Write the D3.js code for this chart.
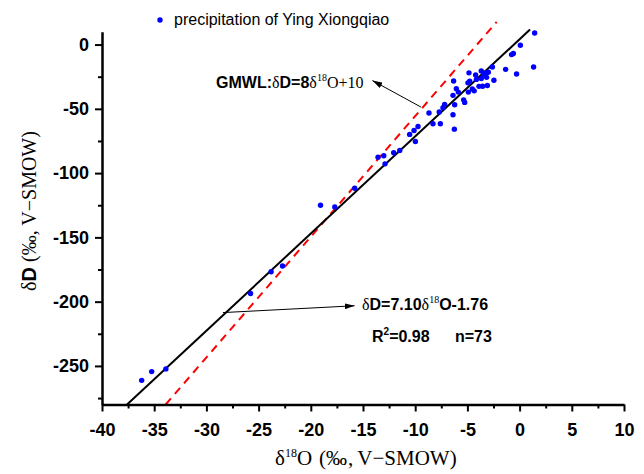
<!DOCTYPE html>
<meta charset="utf-8">
<script src="https://d3js.org/d3.v7.min.js"></script>
<style>
  body { margin: 0; background: #fff; }
  .tick text { font-family: "Liberation Sans", Arial, sans-serif; font-weight: bold; font-size: 18px; fill: #000; }
</style>
<div id="chart"></div>
<script>

// delta 18O (x) and delta D (y) of the precipitation samples
var d18O = [-36.2, -35.24, -33.88, -25.77, -23.8, -22.71, -19.07, -17.7, -15.79, -13.56,
            -13.01, -12.89, -12.06, -11.48, -10.53, -10.11, -9.73, -9.98, -8.68, -8.3,
            -7.59, -7.7, -7.34, -7.18, -6.38, -6.32, -6.38, -6.25, -6.22, -6.06,
            -5.87, -5.36, -5.26, -4.95, -4.78, -4.85, -4.91, -4.53, -4.35, -4.21,
            -4.14, -3.89, -3.67, -3.67, -3.54, -3.44, -3.25, -3.16, -3.09, -3.0,
            -2.61, -2.46, -1.34, -0.77, -0.6, -0.29, 0.07, 1.34, 1.44];
var dD   = [-261.2, -254.4, -252.3, -193.6, -176.7, -172.3, -125.0, -126.3, -111.8, -87.6,
            -86.5, -92.8, -84.2, -82.4, -69.9, -66.8, -63.7, -75.4, -53.3, -61.6,
            -61.6, -52.5, -49.1, -46.5, -39.5, -28.4, -54.6, -65.8, -46.8, -34.3,
            -37.0, -43.0, -45.0, -29.8, -28.6, -22.0, -37.0, -34.5, -36.0, -23.7,
            -27.1, -32.5, -20.6, -26.5, -32.4, -23.8, -22.0, -25.5, -31.9, -21.6,
            -17.5, -27.8, -19.3, -7.8, -7.0, -22.9, -0.5, -17.5, 9.0];

// fitted local line and GMWL as drawn (end points)
var fitX = [-37.6, 1.0],  fitY = [-280, 11.7];
var gmwlX = [-33.9, -2.2], gmwlY = [-280, 17.6];

// axis ticks
var xTicks = [-40, -35, -30, -25, -20, -15, -10, -5, 0, 5, 10];
var xMinor = [-37.5, -32.5, -27.5, -22.5, -17.5, -12.5, -7.5, -2.5, 2.5, 7.5];
var yTicks = [0, -50, -100, -150, -200, -250];
var yMinor = [-25, -75, -125, -175, -225, -275];

// annotation arrows (tail, head) in data units
var gmwlArrow = [[-9.45, -48.6], [-14.1, -28.0]];
var fitArrow  = [[-28.42, -208.5], [-15.8, -203.2]];

var W = 644, H = 474;

var svg = d3.select("#chart").append("svg")
  .attr("width", W).attr("height", H);

var x = d3.scaleLinear().domain([-40, 10]).range([102, 624]);
var y = d3.scaleLinear().domain([-280, 10]).range([404.5, 31.7]);

svg.append("defs").append("marker")
  .attr("id", "arr")
  .attr("viewBox", "0 0 10 6")
  .attr("refX", 10).attr("refY", 3)
  .attr("markerWidth", 10).attr("markerHeight", 6)
  .attr("markerUnits", "userSpaceOnUse")
  .attr("orient", "auto")
  .append("path").attr("d", "M0,0L10,3L0,6Z").attr("fill", "#000");

// lines
svg.append("line")
  .attr("x1", x(gmwlX[0])).attr("y1", y(gmwlY[0]))
  .attr("x2", x(gmwlX[1])).attr("y2", y(gmwlY[1]))
  .attr("stroke", "#ff0000").attr("stroke-width", 2)
  .attr("stroke-dasharray", "8,6");

svg.append("line")
  .attr("x1", x(fitX[0])).attr("y1", y(fitY[0]))
  .attr("x2", x(fitX[1])).attr("y2", y(fitY[1]))
  .attr("stroke", "#000").attr("stroke-width", 2);

// points
svg.selectAll("circle.pt")
  .data(d18O.map(function(d, i) { return [d, dD[i]]; }))
  .enter().append("circle")
    .attr("class", "pt")
    .attr("cx", function(d) { return x(d[0]); })
    .attr("cy", function(d) { return y(d[1]); })
    .attr("r", 2.7)
    .attr("fill", "#0000ff");

// axes
function styleAxis(g) {
  g.select(".domain").attr("stroke-width", 2.5);
  g.selectAll(".tick line").attr("stroke-width", 2);
}

var xAxis = svg.append("g").attr("transform", "translate(0," + y(-280) + ")")
  .call(d3.axisBottom(x).tickValues(xTicks).tickSize(7).tickPadding(12).tickSizeOuter(0)
        .tickFormat(function(d) { return d; }));
styleAxis(xAxis);
svg.append("g").attr("transform", "translate(0," + y(-280) + ")")
  .call(d3.axisBottom(x).tickValues(xMinor).tickSize(4).tickFormat(""))
  .call(function(g) { g.select(".domain").remove(); g.selectAll("line").attr("stroke-width", 2); });

var yAxis = svg.append("g").attr("transform", "translate(" + x(-40) + ",0)")
  .call(d3.axisLeft(y).tickValues(yTicks).tickSize(7).tickPadding(6).tickSizeOuter(0)
        .tickFormat(function(d) { return d; }));
styleAxis(yAxis);
svg.append("g").attr("transform", "translate(" + x(-40) + ",0)")
  .call(d3.axisLeft(y).tickValues(yMinor).tickSize(4).tickFormat(""))
  .call(function(g) { g.select(".domain").remove(); g.selectAll("line").attr("stroke-width", 2); });

// axis titles
var serif = "'Liberation Serif', 'Times New Roman', serif";
var sans = "'Liberation Sans', Arial, sans-serif";

var xt = svg.append("text")
  .attr("x", 275).attr("y", 465)
  .attr("font-family", serif).attr("font-size", 21);
xt.append("tspan").text("δ");
xt.append("tspan").attr("font-size", 12).attr("dy", -8).text("18");
xt.append("tspan").attr("dy", 8).text("O");
xt.append("tspan").attr("dx", 7).text("(‰");
xt.append("tspan").attr("dx", 1).text(",");
xt.append("tspan").attr("dx", 4).text("V−SMOW)");

var yt = svg.append("text")
  .attr("transform", "translate(36,211) rotate(-90)")
  .attr("text-anchor", "middle")
  .attr("font-family", serif).attr("font-size", 20);
yt.append("tspan").text("δ");
yt.append("tspan").attr("font-family", sans).attr("font-weight", "bold").text("D");
yt.append("tspan").text(" (‰, V−SMOW)");

// legend
svg.append("circle").attr("cx", 160).attr("cy", 20).attr("r", 2.7).attr("fill", "#0000ff");
svg.append("text").attr("x", 174).attr("y", 25)
  .attr("font-family", sans).attr("font-size", 16)
  .text("precipitation of Ying Xiongqiao");

// GMWL annotation
svg.append("line")
  .attr("x1", x(gmwlArrow[0][0])).attr("y1", y(gmwlArrow[0][1]))
  .attr("x2", x(gmwlArrow[1][0])).attr("y2", y(gmwlArrow[1][1]))
  .attr("stroke", "#000").attr("stroke-width", 1)
  .attr("marker-end", "url(#arr)");

var g1 = svg.append("text").attr("x", 216).attr("y", 88).attr("font-size", 16);
g1.append("tspan").attr("font-family", sans).attr("font-weight", "bold").text("GMWL:");
g1.append("tspan").attr("font-family", serif).text("δ");
g1.append("tspan").attr("font-family", sans).attr("font-weight", "bold").text("D=8");
g1.append("tspan").attr("font-family", serif).text("δ");
g1.append("tspan").attr("font-family", serif).attr("font-size", 10).attr("dy", -7).text("18");
g1.append("tspan").attr("font-family", serif).attr("dy", 7).text("O+10");

// fitted line annotation
svg.append("line")
  .attr("x1", x(fitArrow[0][0])).attr("y1", y(fitArrow[0][1]))
  .attr("x2", x(fitArrow[1][0])).attr("y2", y(fitArrow[1][1]))
  .attr("stroke", "#000").attr("stroke-width", 1)
  .attr("marker-end", "url(#arr)");

var g2 = svg.append("text").attr("x", 362).attr("y", 310).attr("font-size", 16);
g2.append("tspan").attr("font-family", serif).text("δ");
g2.append("tspan").attr("font-family", sans).attr("font-weight", "bold").text("D=7.10");
g2.append("tspan").attr("font-family", serif).text("δ");
g2.append("tspan").attr("font-family", serif).attr("font-size", 10).attr("dy", -7).text("18");
g2.append("tspan").attr("font-family", sans).attr("font-weight", "bold").attr("dy", 7).text("O-1.76");

var g3 = svg.append("text").attr("x", 372).attr("y", 342)
  .attr("font-family", sans).attr("font-weight", "bold").attr("font-size", 16);
g3.append("tspan").text("R");
g3.append("tspan").attr("font-size", 10).attr("dy", -7).text("2");
g3.append("tspan").attr("dy", 7).text("=0.98");
svg.append("text").attr("x", 455).attr("y", 342)
  .attr("font-family", sans).attr("font-weight", "bold").attr("font-size", 16)
  .text("n=73");

</script>
